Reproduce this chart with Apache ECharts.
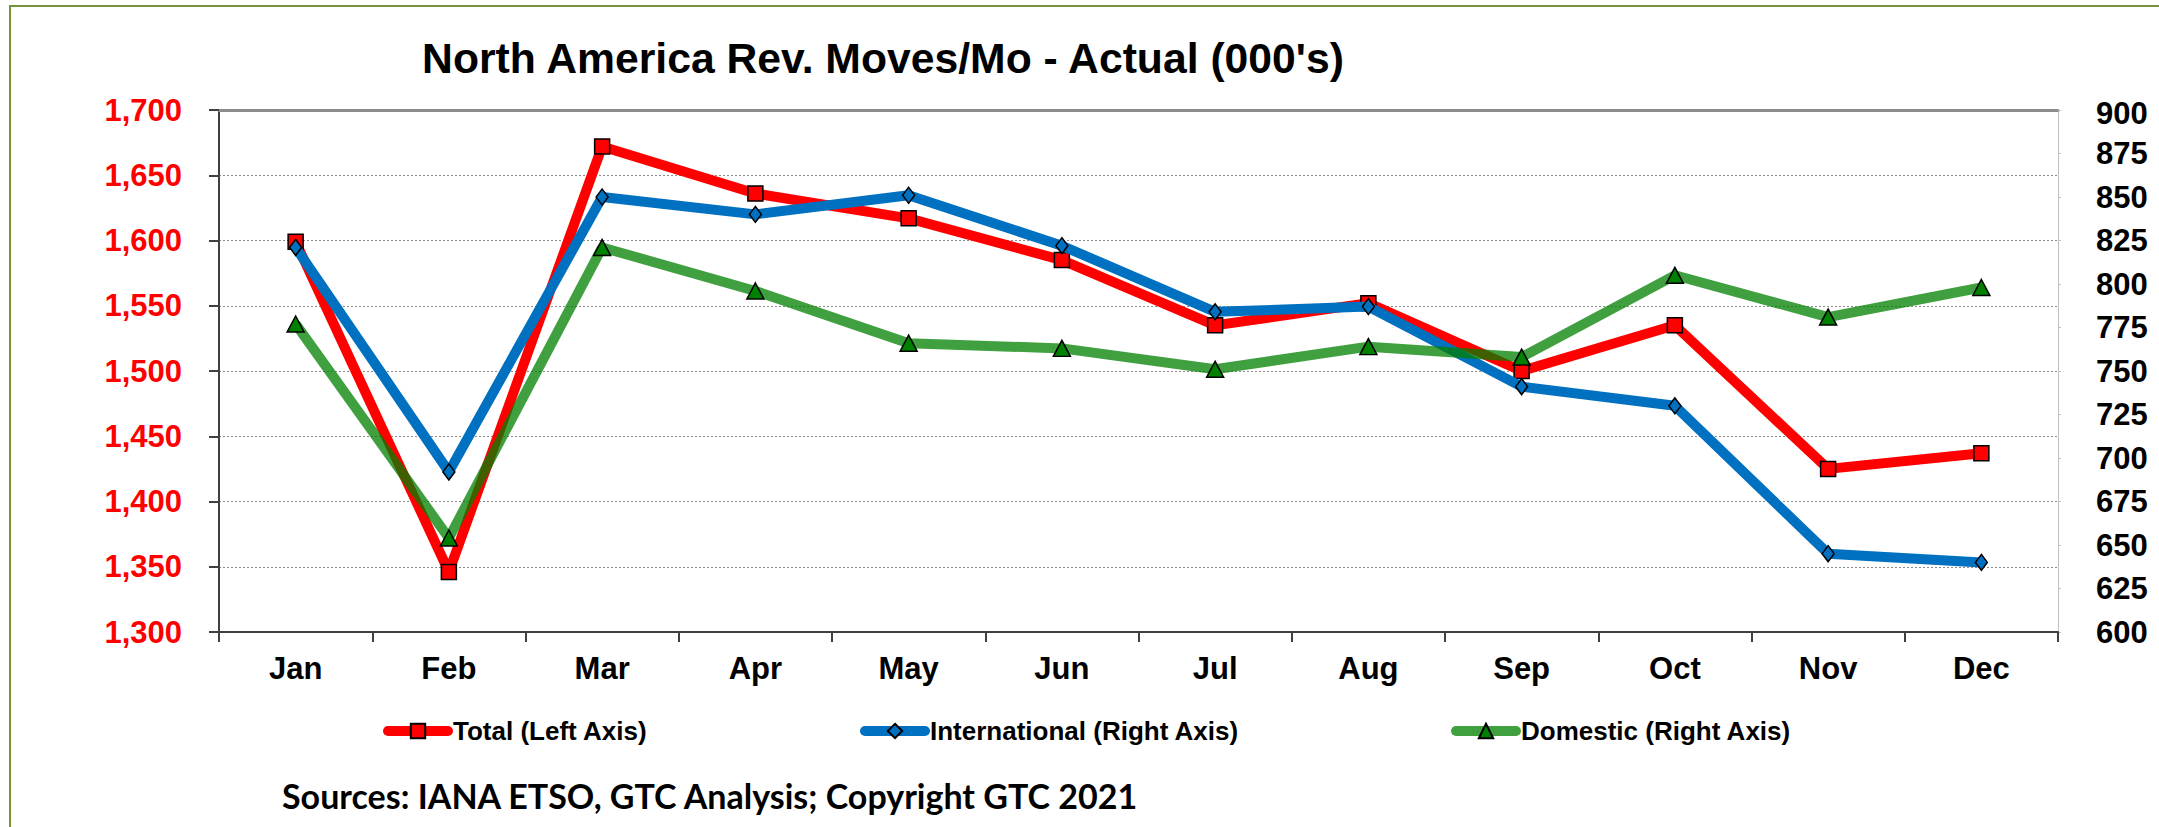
<!DOCTYPE html>
<html>
<head>
<meta charset="utf-8">
<script src="https://cdn.jsdelivr.net/npm/echarts@6/dist/echarts.min.js"></script>
<style>
html,body{margin:0;padding:0;background:#fff;}
#chart{width:2159px;height:827px;}
</style>
</head>
<body>
<div id="chart"></div>
<script>
const categories = ['Jan','Feb','Mar','Apr','May','Jun','Jul','Aug','Sep','Oct','Nov','Dec'];
const totalValues = [1599, 1346, 1672, 1636, 1617, 1585, 1535, 1552, 1500, 1535, 1425, 1437];
const intlValues = [821, 692, 850, 840, 851, 822, 784, 787, 741, 730, 645, 640];
const domValues = [777, 654, 821, 796, 766, 763, 751, 764, 758, 805, 781, 798];
const leftTicks = [1300, 1350, 1400, 1450, 1500, 1550, 1600, 1650, 1700];
const rightTicks = [600, 625, 650, 675, 700, 725, 750, 775, 800, 825, 850, 875, 900];
const seriesNames = ['Total (Left Axis)', 'International (Right Axis)', 'Domestic (Right Axis)'];
const titleText = "North America Rev. Moves/Mo - Actual (000's)";
const sourceText = 'Sources: IANA ETSO, GTC Analysis; Copyright GTC 2021';

const FONT = "'Liberation Sans', Arial, sans-serif";
const chart = echarts.init(document.getElementById('chart'), null, {renderer: 'svg'});

const legendBase = {
  top: 718,
  padding: 0,
  itemWidth: 60,
  itemHeight: 18,
  itemGap: 0,
  textStyle: {fontFamily: FONT, fontWeight: 'bold', fontSize: 26, color: '#000'},
  lineStyle: {width: 10, cap: 'round'}
};

const option = {
  animation: false,
  backgroundColor: '#fff',
  grid: {left: 219, right: 101, top: 110, bottom: 195},
  graphic: [
    {type: 'rect', shape: {x: 10, y: 6, width: 2400, height: 1000},
     style: {fill: 'none', stroke: '#77933C', lineWidth: 2}, silent: true, z: -10},
    {type: 'text', x: 883, y: 58,
     style: {text: titleText, font: "bold 42.7px 'Liberation Sans', Arial, sans-serif",
             fill: '#000', textAlign: 'center', textVerticalAlign: 'middle'}},
    {type: 'text', x: 282, y: 795,
     style: {text: sourceText, font: "bold 34px Lato, 'Open Sans', sans-serif",
             fill: '#000', textAlign: 'left', textVerticalAlign: 'middle'}}
  ],
  legend: [
    Object.assign({}, legendBase, {left: 383, data: [seriesNames[0]]}),
    Object.assign({}, legendBase, {left: 860, data: [seriesNames[1]]}),
    Object.assign({}, legendBase, {left: 1451, data: [seriesNames[2]]})
  ],
  xAxis: [
    {
      type: 'category', data: categories, position: 'bottom', boundaryGap: true,
      axisLine: {lineStyle: {color: '#404040', width: 2}},
      axisTick: {show: true, length: 10, lineStyle: {color: '#404040', width: 2}},
      axisLabel: {margin: 21, fontFamily: FONT, fontWeight: 'bold', fontSize: 31, color: '#000'},
      splitLine: {show: false}
    },
    {
      type: 'category', data: categories, position: 'top', boundaryGap: true,
      axisLine: {lineStyle: {color: '#8c8c8c', width: 3}},
      axisTick: {show: false}, axisLabel: {show: false}, splitLine: {show: false}
    }
  ],
  yAxis: [
    {
      type: 'value', position: 'left',
      min: leftTicks[0], max: leftTicks[leftTicks.length - 1], interval: leftTicks[1] - leftTicks[0],
      axisLine: {show: true, lineStyle: {color: '#404040', width: 2}},
      axisTick: {show: true, length: 10, lineStyle: {color: '#404040', width: 2}},
      axisLabel: {margin: 37, fontFamily: FONT, fontWeight: 'bold', fontSize: 31, color: '#FF0000',
                  formatter: v => v.toLocaleString('en-US')},
      splitLine: {show: true, lineStyle: {color: '#8a8a8a', width: 1, type: [2, 2]}}
    },
    {
      type: 'value', position: 'right',
      min: rightTicks[0], max: rightTicks[rightTicks.length - 1], interval: rightTicks[1] - rightTicks[0],
      axisLine: {show: true, lineStyle: {color: '#c0c0c0', width: 1}},
      axisTick: {show: true, length: 3, lineStyle: {color: '#c0c0c0', width: 1}},
      axisLabel: {margin: 38, fontFamily: FONT, fontWeight: 'bold', fontSize: 31, color: '#000',
                  formatter: v => v === rightTicks[rightTicks.length - 1] ? '{shift|' + v + '}' : String(v),
                  rich: {shift: {fontFamily: FONT, fontWeight: 'bold', fontSize: 31, color: '#000', padding: [6, 0, 0, 0]}}},
      splitLine: {show: false}
    }
  ],
  series: [
    {
      name: seriesNames[0], type: 'line', xAxisIndex: 0, yAxisIndex: 0, data: totalValues,
      symbol: 'rect', symbolSize: 15,
      lineStyle: {color: '#FF0000', width: 10},
      itemStyle: {color: '#FF0000', borderColor: '#000', borderWidth: 1.5},
      z: 2
    },
    {
      name: seriesNames[1], type: 'line', xAxisIndex: 0, yAxisIndex: 1, data: intlValues,
      symbol: 'diamond', symbolSize: [12, 16],
      lineStyle: {color: '#0070C0', width: 10},
      itemStyle: {color: '#0070C0', borderColor: '#000', borderWidth: 1.5},
      z: 3
    },
    {
      name: seriesNames[2], type: 'line', xAxisIndex: 0, yAxisIndex: 1, data: domValues,
      symbol: 'triangle', symbolSize: [17, 16],
      lineStyle: {color: '#008000', width: 10, opacity: 0.75},
      itemStyle: {color: '#008000', borderColor: '#000', borderWidth: 1.5},
      z: 4
    }
  ]
};
chart.setOption(option);
</script>
</body>
</html>
